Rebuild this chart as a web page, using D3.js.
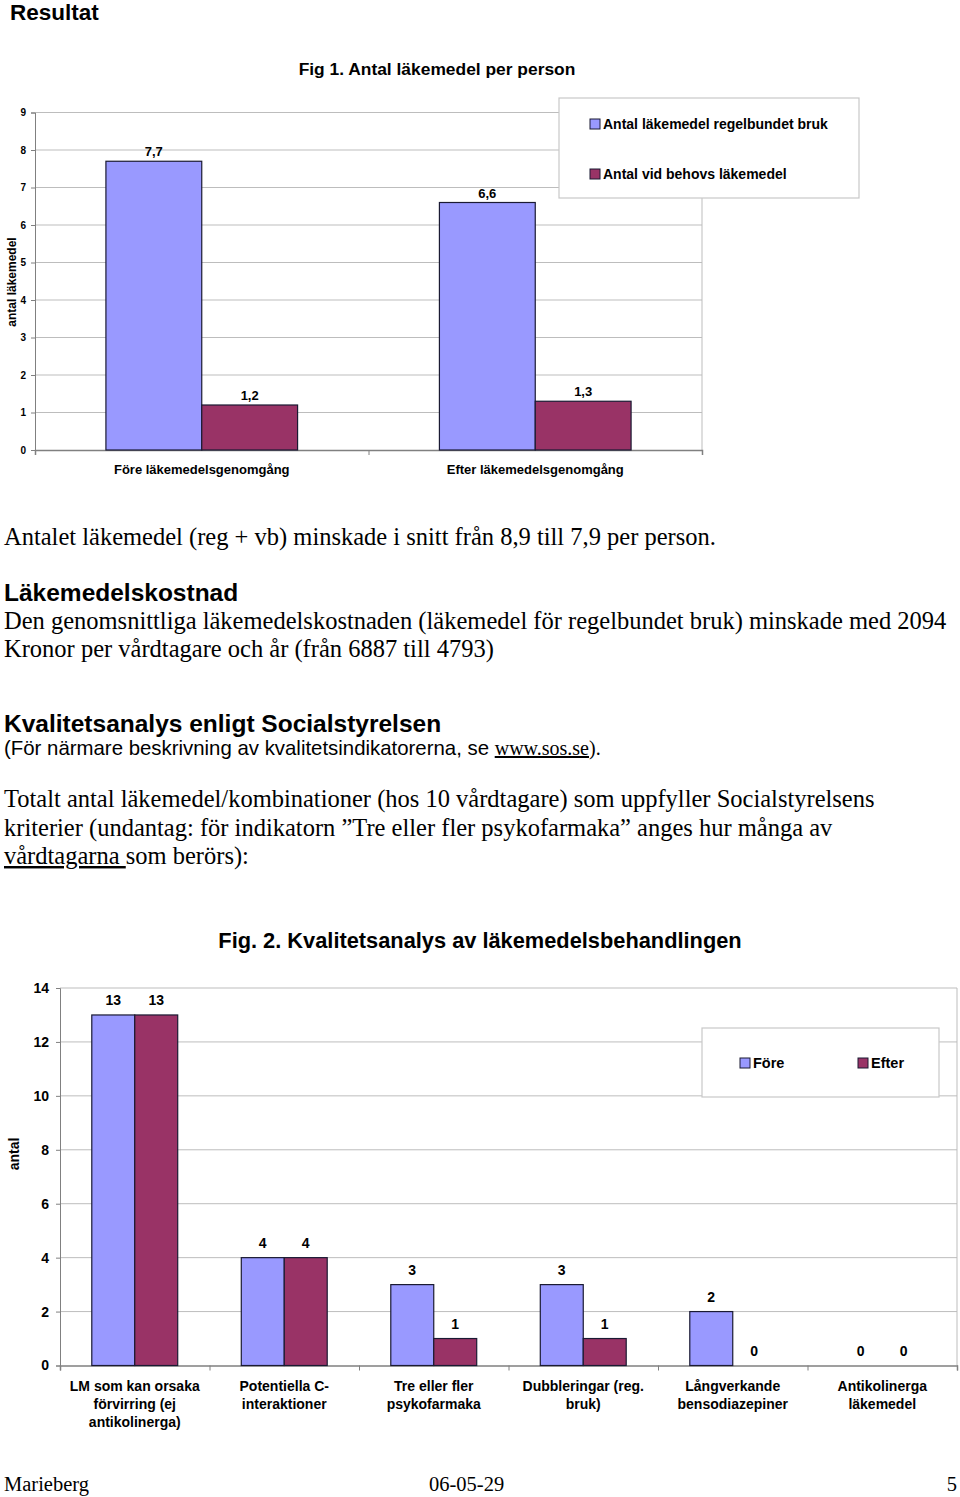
<!DOCTYPE html>
<html><head><meta charset="utf-8">
<script src="https://cdn.jsdelivr.net/npm/d3@7/dist/d3.min.js"></script>
<style>
html,body{margin:0;padding:0;background:#fff;}
svg{display:block;}
.sans{font-family:"Liberation Sans",Arial,sans-serif;}
.serif{font-family:"Liberation Serif","Times New Roman",serif;}
</style></head>
<body>
<svg id="page" width="960" height="1497"></svg>
<script>
// ---------- DATA ----------
const fig1Categories = ["Före läkemedelsgenomgång", "Efter läkemedelsgenomgång"];
const fig1Series = ["Antal läkemedel regelbundet bruk", "Antal vid behovs läkemedel"];
const fig1Regular = [7.7, 6.6];
const fig1AsNeeded = [1.2, 1.3];
const fig1Labels = [["7,7", "6,6"], ["1,2", "1,3"]];
const fig1Ticks = [0, 1, 2, 3, 4, 5, 6, 7, 8, 9];

const fig2Categories = [
  ["LM som kan orsaka", "förvirring (ej", "antikolinerga)"],
  ["Potentiella C-", "interaktioner"],
  ["Tre eller fler", "psykofarmaka"],
  ["Dubbleringar (reg.", "bruk)"],
  ["Långverkande", "bensodiazepiner"],
  ["Antikolinerga", "läkemedel"]
];
const fig2Series = ["Före", "Efter"];
const fig2Fore = [13, 4, 3, 3, 2, 0];
const fig2Efter = [13, 4, 1, 1, 0, 0];
const fig2Ticks = [0, 2, 4, 6, 8, 10, 12, 14];

const colors = ["#9999FF", "#993366"];

// ---------- DRAW ----------
const svg = d3.select("#page");

function groupedBars(cfg) {
  const g = svg.append("g").attr("class", "sans");
  const x = d3.scaleBand().domain(d3.range(cfg.categories.length)).range([cfg.x0, cfg.x1]).padding(0);
  const xs = d3.scaleBand().domain(d3.range(cfg.series.length)).range([0, x.bandwidth()]).paddingInner(0).paddingOuter(0.74);
  const y = d3.scaleLinear().domain([0, cfg.ymax]).range([cfg.y0, cfg.y1]);

  // gridlines
  g.append("g").selectAll("line").data(cfg.ticks.filter(t => t > 0)).join("line")
    .attr("x1", cfg.x0).attr("x2", cfg.x1)
    .attr("y1", d => y(d)).attr("y2", d => y(d))
    .attr("stroke", "#bdbdbd").attr("stroke-width", 1);
  // right border
  g.append("line").attr("x1", cfg.x1).attr("x2", cfg.x1).attr("y1", y(cfg.ymax)).attr("y2", cfg.y0)
    .attr("stroke", "#bdbdbd");

  // y axis
  const yAxis = d3.axisLeft(y).tickValues(cfg.ticks).tickSize(4).tickFormat(d3.format("d"));
  const ya = g.append("g").attr("transform", `translate(${cfg.x0},0)`).call(yAxis);
  ya.select(".domain").attr("stroke", "#808080");
  ya.selectAll(".tick line").attr("stroke", "#808080");
  ya.selectAll(".tick text").attr("font-family", "Liberation Sans, Arial, sans-serif")
    .attr("font-weight", "bold").attr("font-size", cfg.tickFont).attr("fill", "#000").attr("dx", cfg.tickDx);

  // x axis
  const xAxis = d3.axisBottom(d3.scaleLinear().domain([0, cfg.categories.length]).range([cfg.x0, cfg.x1]))
    .tickValues(d3.range(cfg.categories.length + 1)).tickSize(5).tickFormat("");
  const xa = g.append("g").attr("transform", `translate(0,${cfg.y0})`).call(xAxis);
  xa.select(".domain").attr("stroke", "#808080").attr("stroke-width", 1.5);
  xa.selectAll(".tick line").attr("stroke", "#808080");

  // bars
  cfg.values.forEach((vals, s) => {
    g.append("g").selectAll("rect").data(vals).join("rect")
      .attr("x", (d, i) => x(i) + xs(s))
      .attr("y", d => y(d))
      .attr("width", xs.bandwidth())
      .attr("height", d => cfg.y0 - y(d))
      .attr("fill", colors[s])
      .attr("stroke", d => d > 0 ? "#1a1a33" : "none")
      .attr("stroke-width", 1.2);
    g.append("g").selectAll("text").data(vals).join("text")
      .attr("x", (d, i) => x(i) + xs(s) + xs.bandwidth() / 2)
      .attr("y", d => y(d) - cfg.labelGap)
      .attr("text-anchor", "middle")
      .attr("font-weight", "bold").attr("font-size", cfg.valueFont)
      .text((d, i) => cfg.valueLabels ? cfg.valueLabels[s][i] : d);
  });

  // category labels
  const cl = g.append("g").selectAll("text").data(cfg.categories).join("text")
    .attr("text-anchor", "middle").attr("font-weight", "bold").attr("font-size", cfg.catFont)
    .attr("y", cfg.catY);
  cl.each(function(d, i) {
    const lines = Array.isArray(d) ? d : [d];
    d3.select(this).selectAll("tspan").data(lines).join("tspan")
      .attr("x", x(i) + x.bandwidth() / 2)
      .attr("dy", (l, k) => k === 0 ? 0 : cfg.catLH)
      .text(l => l);
  });

  // y title
  g.append("text").attr("transform", `translate(${cfg.yTitleX},${cfg.yTitleY}) rotate(-90)`)
    .attr("text-anchor", "middle").attr("font-weight", "bold").attr("font-size", cfg.yTitleFont)
    .text(cfg.yTitle);

  // legend
  const L = cfg.legend;
  g.append("rect").attr("x", L.x).attr("y", L.y).attr("width", L.w).attr("height", L.h)
    .attr("fill", "#fff").attr("stroke", "#c8c8c8").attr("stroke-width", 1.2);
  cfg.series.forEach((name, s) => {
    const it = L.items[s];
    g.append("rect").attr("x", it.x).attr("y", it.y - 5).attr("width", 10).attr("height", 10)
      .attr("fill", colors[s]).attr("stroke", "#1a1a33").attr("stroke-width", 1);
    g.append("text").attr("x", it.x + 13).attr("y", it.y + 5).attr("font-weight", "bold")
      .attr("font-size", L.font).text(name);
  });
}

// Heading
svg.append("text").attr("class", "sans").attr("x", 10).attr("y", 20)
  .attr("font-weight", "bold").attr("font-size", 22.5).text("Resultat");
svg.append("text").attr("class", "sans").attr("x", 437).attr("y", 75).attr("text-anchor", "middle")
  .attr("font-weight", "bold").attr("font-size", 17.4).text("Fig 1. Antal läkemedel per person");

groupedBars({
  categories: fig1Categories, series: fig1Series, values: [fig1Regular, fig1AsNeeded],
  valueLabels: fig1Labels,
  x0: 35, x1: 702, y0: 450, y1: 112.5, ymax: 9, ticks: fig1Ticks,
  tickFont: 10, tickDx: -2, valueFont: 13, labelGap: 5,
  catFont: 13, catY: 474, catLH: 16,
  yTitle: "antal läkemedel", yTitleX: 16, yTitleY: 282, yTitleFont: 12,
  legend: { x: 559, y: 98, w: 300, h: 100, font: 14,
    items: [{ x: 590, y: 124 }, { x: 590, y: 174 }] }
});

// Paragraphs
const PS = 24.5;
const serif = (x, y, size, txt) => svg.append("text").attr("class", "serif").attr("x", x).attr("y", y)
  .attr("font-size", size).text(txt);
serif(4, 545, PS, "Antalet läkemedel (reg + vb) minskade i snitt från 8,9 till 7,9 per person.");
svg.append("text").attr("class", "sans").attr("x", 4).attr("y", 601).attr("font-weight", "bold")
  .attr("font-size", 24.5).text("Läkemedelskostnad");
serif(4, 629, PS, "Den genomsnittliga läkemedelskostnaden (läkemedel för regelbundet bruk) minskade med 2094");
serif(4, 657, PS, "Kronor per vårdtagare och år (från 6887 till 4793)");
svg.append("text").attr("class", "sans").attr("x", 4).attr("y", 732).attr("font-weight", "bold")
  .attr("font-size", 24.5).text("Kvalitetsanalys enligt Socialstyrelsen");
const t5 = svg.append("text").attr("x", 4).attr("y", 755);
t5.append("tspan").attr("class", "sans").attr("font-size", 20.4).text("(För närmare beskrivning av kvalitetsindikatorerna, se ");
t5.append("tspan").attr("class", "serif").attr("font-size", 20).attr("text-decoration", "underline").text("www.sos.se");
t5.append("tspan").attr("class", "serif").attr("font-size", 20).text(").");
serif(4, 807, PS, "Totalt antal läkemedel/kombinationer (hos 10 vårdtagare) som uppfyller Socialstyrelsens");
serif(4, 836, PS, "kriterier (undantag: för  indikatorn \u201dTre eller fler psykofarmaka\u201d anges hur många av");
const t8 = svg.append("text").attr("class", "serif").attr("x", 4).attr("y", 864).attr("font-size", PS);
t8.append("tspan").attr("text-decoration", "underline").text("vårdtagarna\u00a0");
t8.append("tspan").text("som berörs):");

svg.append("text").attr("class", "sans").attr("x", 480).attr("y", 948).attr("text-anchor", "middle")
  .attr("font-weight", "bold").attr("font-size", 21.8).text("Fig. 2. Kvalitetsanalys av läkemedelsbehandlingen");

groupedBars({
  categories: fig2Categories, series: fig2Series, values: [fig2Fore, fig2Efter],
  x0: 60, x1: 957, y0: 1365.5, y1: 988, ymax: 14, ticks: fig2Ticks,
  tickFont: 14, tickDx: -4, valueFont: 14, labelGap: 10,
  catFont: 14, catY: 1391, catLH: 18,
  yTitle: "antal", yTitleX: 19, yTitleY: 1154, yTitleFont: 14,
  legend: { x: 702, y: 1028, w: 237, h: 69, font: 14.5,
    items: [{ x: 740, y: 1063 }, { x: 858, y: 1063 }] }
});

// Footer
serif(4, 1491, 20.5, "Marieberg");
serif(429, 1491, 20.5, "06-05-29");
svg.append("text").attr("class", "serif").attr("x", 957).attr("y", 1491).attr("text-anchor", "end")
  .attr("font-size", 20.5).text("5");
</script>
</body></html>
